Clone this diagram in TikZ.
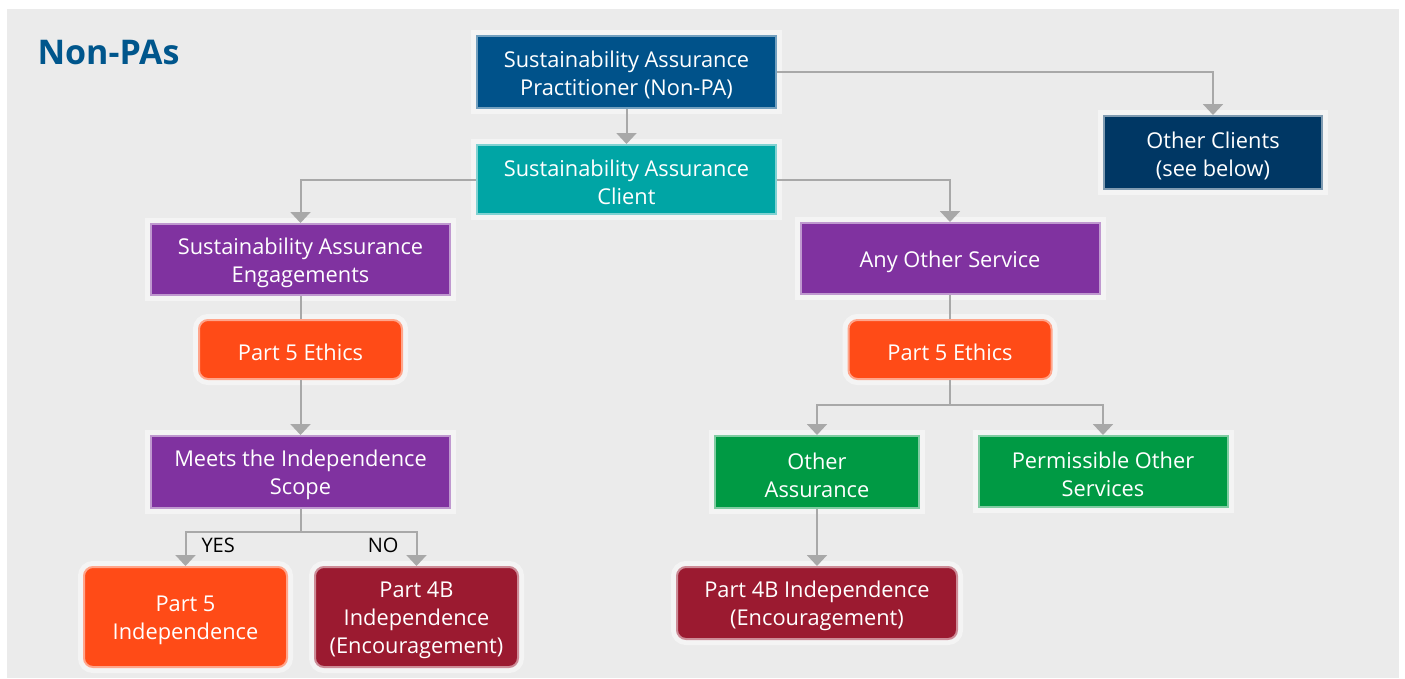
\documentclass[tikz,border=0pt]{standalone}
\usepackage{fontspec}
\setmainfont{Open Sans}
\usetikzlibrary{arrows.meta}

\definecolor{bggray}{HTML}{EBEBEB}
\definecolor{halogray}{HTML}{F4F4F4}
\definecolor{linegray}{HTML}{A8A8A8}
\definecolor{titleblue}{HTML}{00568C}
\definecolor{pablue}{HTML}{00528A}
\definecolor{clientteal}{HTML}{00A5A5}
\definecolor{othernavy}{HTML}{003764}
\definecolor{servpurple}{HTML}{8032A0}
\definecolor{ethorange}{HTML}{FF4B17}
\definecolor{indred}{HTML}{9B1A30}
\definecolor{assgreen}{HTML}{009A44}

% pushes the first line of a box down a little
\newcommand{\boxstrut}{\rule{0pt}{23pt}}

\tikzset{
    box/.style={rectangle, inner sep=0pt, align=center, text=white,
        line width=2pt, font=\fontsize{21.8}{28}\selectfont,
        preaction={draw=halogray, line width=12pt}},
    roundbox/.style={box, rounded corners=9pt},
    line/.style={draw=linegray, line width=2pt},
    conn/.style={line, -{Triangle[width=20pt,length=11pt]}, color=linegray},
}

\begin{document}
\begin{tikzpicture}[x=1pt, y=-1pt]
    \useasboundingbox (0,0) rectangle (1405,678);
    \fill[bggray] (7,9) rectangle (1399,678);

    \node[anchor=base west, text=titleblue, font=\fontsize{34}{40}\selectfont\bfseries] (title) at (34,64) {Non-PAs};

    % top row
    \node[box, fill=pablue, draw=pablue!55!white, minimum width=299pt, minimum height=72pt] (prac) at (626.5,72) {\boxstrut Sustainability Assurance\\Practitioner (Non-PA)};
    \node[box, fill=clientteal, draw=clientteal!50!white, minimum width=299pt, minimum height=69pt] (client) at (626.5,179.5) {\boxstrut Sustainability Assurance\\Client};
    \node[box, fill=othernavy, draw=othernavy!50!white, minimum width=218pt, minimum height=73pt] (other) at (1213,152.5) {\boxstrut Other Clients\\(see below)};

    % left branch
    \node[box, fill=servpurple, draw=servpurple!50!white, minimum width=299pt, minimum height=71pt] (sae) at (300.5,259.5) {\boxstrut Sustainability Assurance\\Engagements};
    \node[roundbox, fill=ethorange, draw=ethorange!50!white, minimum width=203pt, minimum height=59pt] (ethL) at (300.5,349.5) {\boxstrut Part 5 Ethics};
    \node[box, fill=servpurple, draw=servpurple!50!white, minimum width=299pt, minimum height=72pt] (meets) at (300.5,472) {\boxstrut Meets the Independence\\Scope};
    \node[roundbox, fill=ethorange, draw=ethorange!50!white, minimum width=203pt, minimum height=100pt] (p5ind) at (185.5,617) {\boxstrut Part 5\\Independence};
    \node[roundbox, fill=indred, draw=indred!50!white, minimum width=203pt, minimum height=100pt] (p4bL) at (416.5,617) {\boxstrut Part 4B\\Independence\\(Encouragement)};

    % right branch
    \node[box, fill=servpurple, draw=servpurple!50!white, minimum width=299pt, minimum height=71pt] (aos) at (950,258.5) {\boxstrut Any Other Service};
    \node[roundbox, fill=ethorange, draw=ethorange!50!white, minimum width=203pt, minimum height=59pt] (ethR) at (950,349.5) {\boxstrut Part 5 Ethics};
    \node[box, fill=assgreen, draw=assgreen!50!white, minimum width=204pt, minimum height=72pt] (otherass) at (817,472) {\boxstrut Other\\Assurance};
    \node[box, fill=assgreen, draw=assgreen!50!white, minimum width=249pt, minimum height=71pt] (permis) at (1103,471.5) {\boxstrut Permissible Other\\Services};
    \node[roundbox, fill=indred, draw=indred!50!white, minimum width=280pt, minimum height=72pt] (p4bR) at (817,603) {\boxstrut Part 4B Independence\\(Encouragement)};

    \coordinate (splitL) at (300.5,532);
    \coordinate (splitR) at (950,405);

    \draw[conn] (prac) -- (client);
    \draw[conn] (prac.east) -| (other);
    \draw[conn] (client.west) -| (sae);
    \draw[conn] (client.east) -| (aos);

    \draw[line] (sae) -- (ethL);
    \draw[conn] (ethL) -- (meets);
    \draw[line] (meets) -- (splitL);
    \draw[conn] (splitL) -| (p5ind);
    \draw[conn] (splitL) -| (p4bL);

    \draw[line] (aos) -- (ethR);
    \draw[line] (ethR) -- (splitR);
    \draw[conn] (splitR) -| (otherass);
    \draw[conn] (splitR) -| (permis);
    \draw[conn] (otherass) -- (p4bR);

    \node[anchor=base west, font=\fontsize{20}{24}\selectfont] (yes) at (198,552.7) {YES};
    \node[anchor=base east, font=\fontsize{20}{24}\selectfont] (no) at (402,552.7) {NO};
\end{tikzpicture}
\end{document}
